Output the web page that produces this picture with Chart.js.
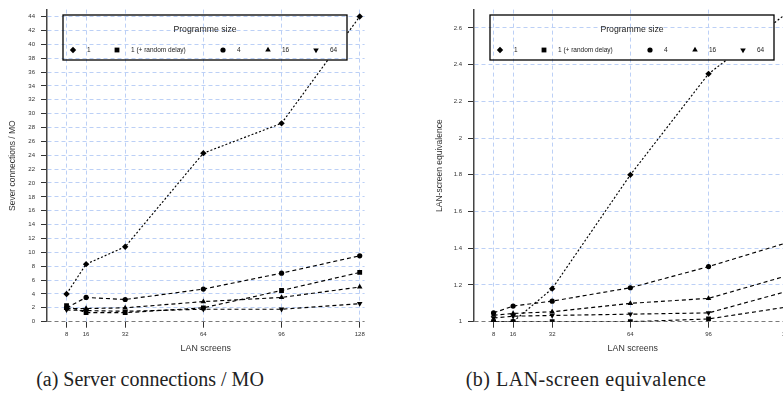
<!DOCTYPE html>
<html><head><meta charset="utf-8">
<script src="https://cdn.jsdelivr.net/npm/chart.js@4.4.1/dist/chart.umd.min.js"></script>
<style>
html,body{margin:0;padding:0;background:#fff;overflow:hidden;width:783px;height:404px;position:relative}
#wa{position:absolute;left:0;top:0;width:400px;height:360px}
#wb{position:absolute;left:427px;top:0;width:400px;height:360px}
.cap{position:absolute;top:368px;font-family:"Liberation Serif","DejaVu Serif",serif;font-size:20px;color:#222;white-space:nowrap;transform:translateX(-50%)}
</style></head><body>
<div id="wa"><canvas id="ca" width="400" height="360"></canvas></div>
<div id="wb"><canvas id="cb" width="400" height="360"></canvas></div>
<div class="cap" style="left:150px">(a) Server connections / MO</div>
<div class="cap" style="left:586px;letter-spacing:0.5px">(b) LAN-screen equivalence</div>
<script>
// ---- data ----
const lanScreens = [8, 16, 32, 64, 96, 128];
const seriesNames = ['1', '1 (+ random delay)', '4', '16', '64'];

const connProg1      = [4.0, 8.3, 10.8, 24.3, 28.6, 44.0];
const connProg1Delay = [2.3, 1.3, 1.3, 2.0, 4.5, 7.1];
const connProg4      = [2.0, 3.5, 3.2, 4.7, 7.0, 9.5];
const connProg16     = [1.9, 1.9, 2.0, 2.9, 3.5, 5.0];
const connProg64     = [1.7, 1.6, 1.5, 1.8, 1.8, 2.6];

const equivProg1      = [1.0, 1.0, 1.18, 1.80, 2.35, 2.68];
const equivProg1Delay = [1.0, 1.0, 1.0, 1.0, 1.015, 1.08];
const equivProg4      = [1.048, 1.085, 1.112, 1.185, 1.30, 1.43];
const equivProg16     = [1.035, 1.045, 1.054, 1.10, 1.127, 1.25];
const equivProg64     = [1.02, 1.03, 1.034, 1.041, 1.048, 1.165];

const xTickValues = [8, 16, 32, 64, 96, 128];
const connTicks  = [0, 2, 4, 6, 8, 10, 12, 14, 16, 18, 20, 22, 24, 26, 28, 30, 32, 34, 36, 38, 40, 42, 44];
const equivTicks = [1, 1.2, 1.4, 1.6, 1.8, 2, 2.2, 2.4, 2.6];

// ---- styles ----
const markerStyles = [
  {pointStyle: 'rectRot',  radius: 3.2, rot: 0,   dash: [2, 2]},
  {pointStyle: 'rect',     radius: 3.4, rot: 0,   dash: [4, 3]},
  {pointStyle: 'circle',   radius: 2.6, rot: 0,   dash: [4, 3]},
  {pointStyle: 'triangle', radius: 3.2, rot: 0,   dash: [4, 3]},
  {pointStyle: 'triangle', radius: 3.2, rot: 180, dash: [4, 3]}
];
const legendItemX = [10, 54, 160, 205, 253];
const GRID_BLUE = '#bcd0f6';
const FONT = '"Liberation Sans", Arial, sans-serif';

function drawMarker(ctx, style, r, rot, x, y) {
  ctx.beginPath();
  if (style === 'circle') {
    ctx.arc(x, y, r, 0, Math.PI * 2);
  } else if (style === 'rect') {
    const s = r * Math.SQRT1_2;
    ctx.rect(x - s, y - s, 2 * s, 2 * s);
  } else if (style === 'rectRot') {
    ctx.moveTo(x, y - r); ctx.lineTo(x + r, y); ctx.lineTo(x, y + r); ctx.lineTo(x - r, y); ctx.closePath();
  } else if (style === 'triangle') {
    const d = rot === 180 ? -1 : 1;
    ctx.moveTo(x, y - d * r);
    ctx.lineTo(x + r * 0.866, y + d * r * 0.5);
    ctx.lineTo(x - r * 0.866, y + d * r * 0.5);
    ctx.closePath();
  }
  ctx.fill();
}

const boxLegend = {
  id: 'boxLegend',
  afterDatasetsDraw(chart, args, o) {
    const ctx = chart.ctx, a = chart.chartArea;
    const L = a.left + o.dx, T = o.top, W = o.w, H = o.h;
    ctx.save();
    ctx.fillStyle = '#fff';
    ctx.fillRect(L, T, W, H);
    ctx.beginPath(); ctx.rect(L, T, W, H); ctx.clip();
    chart.scales.x.drawGrid(a);
    chart.scales.y.drawGrid(a);
    ctx.restore();

    ctx.save();
    ctx.setLineDash([]);
    ctx.lineWidth = 1.3;
    ctx.strokeStyle = '#000';
    ctx.strokeRect(L, T, W, H);
    ctx.fillStyle = '#222';
    ctx.font = '8.7px ' + FONT;
    ctx.textAlign = 'center';
    ctx.textBaseline = 'middle';
    ctx.fillText(o.title, L + W / 2, T + 15);
    ctx.font = '6.5px ' + FONT;
    ctx.textAlign = 'left';
    chart.data.datasets.forEach((ds, i) => {
      const ms = markerStyles[i];
      const mx = L + legendItemX[i], my = T + 35;
      ctx.fillStyle = '#000';
      drawMarker(ctx, ms.pointStyle, ms.radius, ms.rot, mx, my);
      ctx.fillStyle = '#222';
      ctx.fillText(ds.label, mx + 14, my);
    });
    ctx.restore();
  }
};

function makeChart(id, seriesList, yTicks, yMin, yMax, yTitle) {
  const datasets = seriesList.map((vals, i) => ({
    label: seriesNames[i],
    data: lanScreens.map((x, j) => ({x: x, y: vals[j]})),
    borderColor: '#000',
    borderWidth: 1.15,
    borderDash: markerStyles[i].dash,
    pointStyle: markerStyles[i].pointStyle,
    pointRotation: markerStyles[i].rot,
    pointRadius: markerStyles[i].radius,
    pointBackgroundColor: '#000',
    pointBorderWidth: 0,
    fill: false,
    tension: 0
  }));
  return new Chart(document.getElementById(id), {
    type: 'line',
    data: {datasets: datasets},
    plugins: [boxLegend],
    options: {
      responsive: false,
      animation: false,
      events: [],
      layout: {padding: {left: 0, top: 4.7, right: 35.4, bottom: 0}},
      plugins: {
        legend: {display: false},
        tooltip: {enabled: false},
        boxLegend: {dx: 16, top: 15, w: 284, h: 45, title: 'Programme size'}
      },
      scales: {
        x: {
          type: 'linear', min: 0, max: 130,
          afterBuildTicks: s => { s.ticks = xTickValues.map(v => ({value: v})); },
          afterFit: s => { s.height = 38.3; },
          ticks: {font: {family: FONT, size: 6}, color: '#333', padding: 3, maxRotation: 0, autoSkip: false},
          grid: {color: GRID_BLUE, lineWidth: 1, tickLength: 6, tickColor: '#333', tickWidth: 1, tickBorderDash: []},
          border: {display: false, dash: [4, 3]},
          title: {display: true, text: 'LAN screens', color: '#333', font: {family: FONT, size: 8.8}, padding: {top: 0, bottom: 6.5}}
        },
        y: {
          type: 'linear', min: yMin, max: yMax,
          afterBuildTicks: s => { s.ticks = yTicks.map(v => ({value: v})); },
          afterFit: s => { s.width = 47; },
          ticks: {font: {family: FONT, size: 6}, color: '#333', padding: 6, autoSkip: false,
                  callback: v => String(Math.round(v * 100) / 100)},
          grid: {color: c => (c.tick && c.tick.value === yMin) ? '#7a7a7a' : GRID_BLUE,
                 lineWidth: 1, tickLength: 6, tickColor: '#333', tickWidth: 1, tickBorderDash: []},
          border: {display: true, color: '#444', width: 1.5, dash: [4, 3]},
          title: {display: true, text: yTitle, color: '#333', font: {family: FONT, size: 8.5}, padding: {top: 7.5, bottom: 0}}
        }
      }
    }
  });
}

makeChart('ca', [connProg1, connProg1Delay, connProg4, connProg16, connProg64], connTicks, 0, 45, 'Sever connections / MO');
makeChart('cb', [equivProg1, equivProg1Delay, equivProg4, equivProg16, equivProg64], equivTicks, 1, 2.7, 'LAN-screen equivalence');
</script>
</body></html>
